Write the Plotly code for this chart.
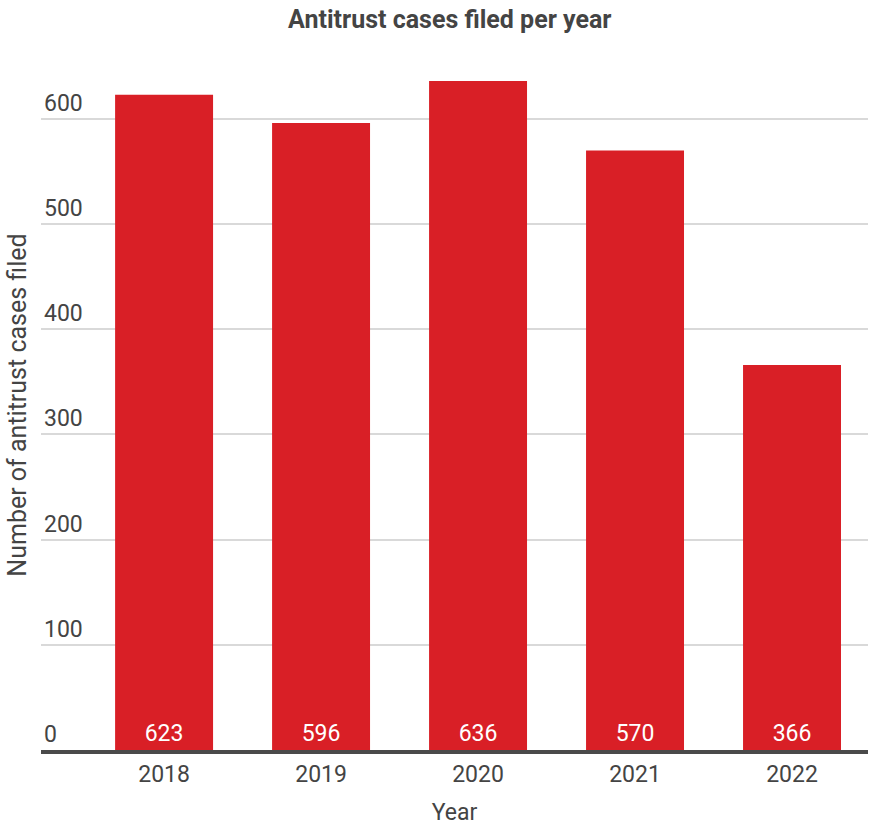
import plotly.graph_objects as go

# Antitrust filings by year
years = ["2018", "2019", "2020", "2021", "2022"]
cases = [623, 596, 636, 570, 366]
y_ticks = [0, 100, 200, 300, 400, 500, 600]

BAR_RED = "#D91F26"
TEXT_GREY = "#444444"
GRID_GREY = "#D9D9D9"

fig = go.Figure(
    go.Bar(
        x=years,
        y=cases,
        marker=dict(color=BAR_RED, line=dict(width=0)),
        text=[str(v) for v in cases],
        textposition="inside",
        insidetextanchor="start",
        textfont=dict(family="Roboto", size=23, color="white"),
        textangle=0,
        hoverinfo="skip",
    )
)

fig.update_layout(
    width=870,
    height=826,
    margin=dict(l=41, r=2, t=60, b=76),
    paper_bgcolor="white",
    plot_bgcolor="white",
    bargap=0.376,
    showlegend=False,
    font=dict(family="Roboto", color=TEXT_GREY),
    title=dict(
        text="<b>Antitrust cases filed per year</b>",
        x=0.517,
        xanchor="center",
        y=0.977,
        yanchor="middle",
        font=dict(family="Roboto", size=25, color=TEXT_GREY),
    ),
)

fig.update_xaxes(
    type="category",
    range=[-0.784, 4.484],
    showgrid=False,
    showline=True,
    linecolor="#4A4A4A",
    linewidth=4,
    ticks="",
    tickfont=dict(family="Roboto", size=23, color=TEXT_GREY),
    title=dict(text="Year", font=dict(family="Roboto", size=23, color=TEXT_GREY), standoff=18),
)

fig.update_yaxes(
    range=[0, 656],
    tickvals=y_ticks,
    ticktext=[str(v) for v in y_ticks],
    ticklabelposition="inside top",
    tickfont=dict(family="Roboto", size=23, color=TEXT_GREY),
    showgrid=True,
    gridcolor=GRID_GREY,
    gridwidth=2,
    zeroline=False,
    showline=False,
    ticks="",
    title=dict(
        text="Number of antitrust cases filed",
        font=dict(family="Roboto", size=25, color=TEXT_GREY),
        standoff=10,
    ),
)

fig.write_html("out.html")
